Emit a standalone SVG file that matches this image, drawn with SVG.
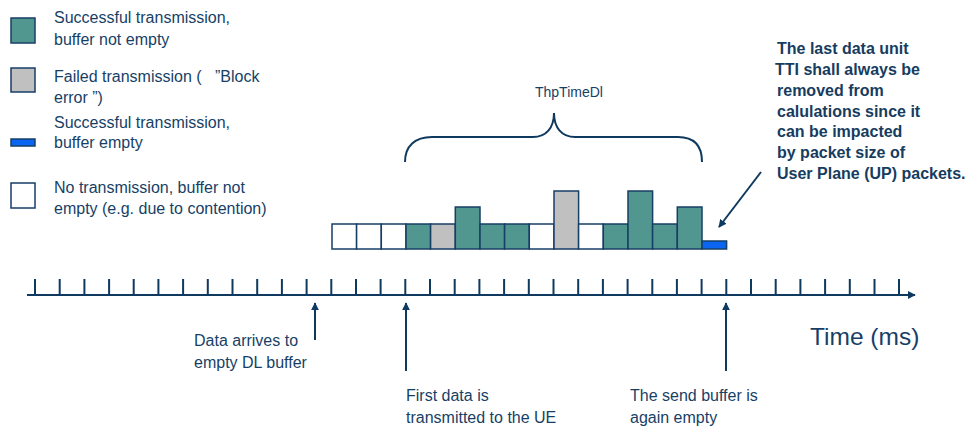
<svg xmlns="http://www.w3.org/2000/svg" width="967" height="427" viewBox="0 0 967 427">
<defs>
<style>
.t{font-family:"Liberation Sans",Arial,sans-serif;font-size:16px;fill:#173f66;white-space:pre}
.b{font-family:"Liberation Sans",Arial,sans-serif;font-size:16px;font-weight:bold;fill:#163c60}
.c{stroke:#173f66;stroke-width:1.5}
.ok{fill:#52978f}
.fail{fill:#c0c0c0}
.emp{fill:#0a66f2}
.none{fill:#ffffff}
.ln{stroke:#0f3a60;stroke-width:2;fill:none}
</style>
<marker id="ah" viewBox="0 0 10 10" refX="9" refY="5" markerWidth="4" markerHeight="4" orient="auto">
<path d="M0,0 L10,5 L0,10 z" fill="#0f3a60"/>
</marker>
</defs>
<rect width="967" height="427" fill="#ffffff"/>

<g id="legend">
<g id="leg-ok"><rect class="c ok" x="11" y="18" width="24" height="25"/>
<text class="t" x="54" y="23">Successful transmission,</text>
<text class="t" x="54" y="45">buffer not empty</text></g>
<g id="leg-fail"><rect class="c fail" x="11" y="68" width="24" height="24"/>
<text class="t" x="54" y="82">Failed transmission (   ”Block</text>
<text class="t" x="54" y="103">error ”)</text></g>
<g id="leg-empty"><rect class="c emp" x="11" y="139" width="24" height="7"/>
<text class="t" x="54" y="128">Successful transmission,</text>
<text class="t" x="54" y="148">buffer empty</text></g>
<g id="leg-none"><rect class="c none" x="11" y="183" width="24" height="25"/>
<text class="t" x="54" y="193">No transmission, buffer not</text>
<text class="t" x="54" y="214">empty (e.g. due to contention)</text></g>
</g>

<g id="bars">
<rect class="c none" x="332" y="224" width="24.6" height="25"/>
<rect class="c none" x="356.6" y="224" width="24.7" height="25"/>
<rect class="c none" x="381.3" y="224" width="24.7" height="25"/>
<rect class="c ok" x="406" y="224" width="24.6" height="25"/>
<rect class="c fail" x="430.6" y="224" width="24.7" height="25"/>
<rect class="c ok" x="455.3" y="207" width="24.7" height="42"/>
<rect class="c ok" x="480" y="224" width="24.6" height="25"/>
<rect class="c ok" x="504.6" y="224" width="24.7" height="25"/>
<rect class="c none" x="529.3" y="224" width="24.7" height="25"/>
<rect class="c fail" x="554" y="191" width="24.6" height="58"/>
<rect class="c none" x="578.6" y="224" width="24.7" height="25"/>
<rect class="c ok" x="603.3" y="224" width="24.7" height="25"/>
<rect class="c ok" x="628" y="191" width="24.6" height="58"/>
<rect class="c ok" x="652.6" y="224" width="24.7" height="25"/>
<rect class="c ok" x="677.3" y="207" width="24.7" height="42"/>
<rect class="c emp" x="702" y="241" width="24.6" height="8"/>
</g>

<g id="brace">
<path class="ln" stroke-width="1.5" d="M405,162 C405,146 415,137 432,137 L533,137 C546,137 554,128 554,113 C554,128 562,137 575,137 L678,137 C694,137 702,146 702,162"/>
<text class="t" style="font-size:14px" x="535" y="97">ThpTimeDl</text>
</g>

<g id="note">
<text class="b" x="777" y="54">The last data unit</text>
<text class="b" x="775" y="75">TTI shall always be</text>
<text class="b" x="777" y="96">removed from</text>
<text class="b" x="777" y="117">calulations since it</text>
<text class="b" x="777" y="137">can be impacted</text>
<text class="b" x="777" y="158">by packet size of</text>
<text class="b" x="777" y="179">User Plane (UP) packets.</text>
</g>

<g id="axis">
<path class="ln" stroke-width="2.5" d="M27,295 H915" marker-end="url(#ah)"/>
<path class="ln" d="M35,279V295M59.7,279V295M84.4,279V295M109.1,279V295M133.7,279V295M158.4,279V295M183.1,279V295M207.8,279V295M232.5,279V295M257.2,279V295M281.9,279V295M306.6,279V295M331.3,279V295M356,279V295M380.6,279V295M405.3,279V295M430,279V295M454.7,279V295M479.4,279V295M504.1,279V295M528.8,279V295M553.5,279V295M578.2,279V295M602.9,279V295M627.6,279V295M652.3,279V295M676.9,279V295M701.6,279V295M726.3,279V295M751,279V295M775.7,279V295M800.4,279V295M825.1,279V295M849.8,279V295M874.5,279V295M899,279V295"/>
<text class="t" style="font-size:24.5px" x="810" y="345">Time (ms)</text>
</g>

<g id="connectors">
<line class="ln" x1="315" y1="340" x2="315" y2="303" marker-end="url(#ah)"/>
<line class="ln" x1="406" y1="371" x2="406" y2="303" marker-end="url(#ah)"/>
<line class="ln" x1="726" y1="371" x2="726" y2="303" marker-end="url(#ah)"/>
<line class="ln" x1="761" y1="172" x2="719" y2="227" marker-end="url(#ah)"/>
</g>

<g id="events">
<g id="ev-arrive"><text class="t" x="194" y="346">Data arrives to</text>
<text class="t" x="194" y="368">empty DL buffer</text></g>
<g id="ev-first"><text class="t" x="406" y="401">First data is</text>
<text class="t" x="406" y="423">transmitted to the UE</text></g>
<g id="ev-empty"><text class="t" x="630" y="401">The send buffer is</text>
<text class="t" x="630" y="423">again empty</text></g>
</g>
</svg>
